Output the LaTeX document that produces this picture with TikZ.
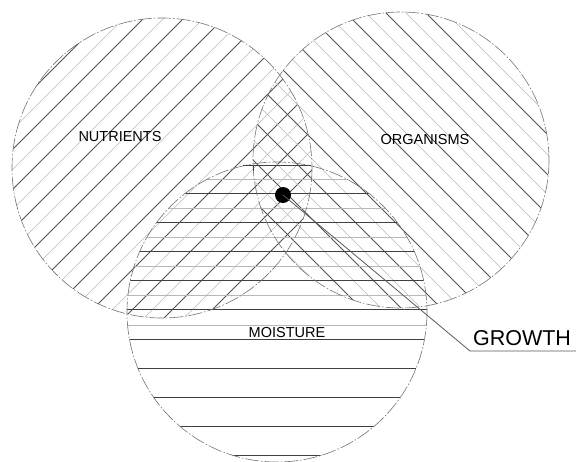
\documentclass[tikz,border=0pt]{standalone}
\usepackage{fontspec}
\setmainfont{Liberation Sans}
\begin{document}
\begin{tikzpicture}[x=1pt,y=-1pt,
  outline/.style={draw=black!55, line width=0.6pt, dash pattern=on 14pt off 2pt on 1.5pt off 2pt},
  hdark/.style={draw=black!68, line width=0.75pt},
  hlight/.style={draw=black!28, line width=0.6pt},
  mdark/.style={draw=black!75, line width=0.85pt},
  mlight/.style={draw=black!28, line width=0.7pt},
  lbl/.style={font=\fontsize{14.5}{15}\selectfont, text=black, inner sep=0pt},
  leader/.style={draw=black!65, line width=0.8pt},
]
\useasboundingbox (0,0) rectangle (576,461);
\coordinate (N) at (162,168);
\coordinate (O) at (401,160);
\coordinate (M) at (277,312);

% nutrients hatch (/)
\begin{scope}
  \clip (N) circle[radius=150];
  \foreach \c in {142,182,...,542} \draw[hlight] (\c+10,-10) -- (\c-350,350);
  \foreach \c in {122,162,...,522} \draw[hdark] (\c+10,-10) -- (\c-350,350);
\end{scope}

% organisms hatch (\)
\begin{scope}
  \clip (O) circle[radius=148];
  \foreach \c in {33,73,...,433} \draw[hlight] (\c-10,-10) -- (\c+350,350);
  \foreach \c in {13,53,...,413} \draw[hdark] (\c-10,-10) -- (\c+350,350);
\end{scope}

% moisture hatch (horizontal)
\begin{scope}
  \clip (M) circle[radius=150];
  \foreach \i in {0,...,5} \draw[mlight] (100,179+29.2*\i) -- (460,179+29.2*\i);
  \foreach \i in {0,...,9} \draw[mdark] (100,193+29.2*\i) -- (460,193+29.2*\i);
\end{scope}

% outlines
\draw[outline] (N) circle[radius=150];
\draw[outline] (O) circle[radius=148];
\draw[outline] (M) circle[radius=150];

% short mark at top of moisture
\draw[mdark] (243,165) -- (311,165);
\draw[mdark] (253,165) -- (253,171);

% labels
\node[lbl] (tN) at (120,137) {NUTRIENTS};
\node[lbl] (tO) at (425,140) {ORGANISMS};
\node[lbl] (tM) at (287,333) {MOISTURE};
\node[font=\fontsize{21.5}{22}\selectfont, text=black, anchor=base, inner sep=0pt] (tG) at (522,345) {GROWTH};

% dot and leader
\node[circle, fill=black, minimum size=16pt, inner sep=0pt] (dot) at (283,195) {};
\coordinate (bend) at (470,351);
\coordinate (lend) at (576,351);
\draw[leader] (dot.center) -- (bend) -- (lend);
\end{tikzpicture}
\end{document}
